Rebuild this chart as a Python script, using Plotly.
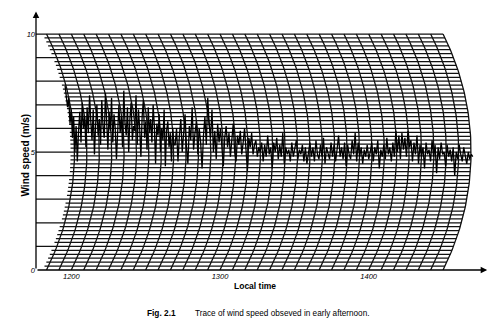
import numpy as np
import plotly.graph_objects as go

# ---------------- data ----------------
# wind speed trace (m/s), three stretches of the record, sampled left to right
speed_early = [7.8, 7.4, 6.9, 7.3, 6.2, 6.8, 5.6, 6.5, 5.0, 6.1, 4.6, 5.9, 6.7, 5.4, 7.1, 6.0,
               6.5, 5.2, 6.9, 5.8, 7.4, 6.3, 5.5, 6.8, 4.9, 6.2, 7.0, 5.7, 6.4, 5.3, 7.2, 6.1,
               5.6, 7.5, 6.0, 5.1, 6.7, 5.9, 7.3, 5.4, 6.6, 6.0, 4.7, 6.3, 7.0, 5.8, 6.5, 5.2,
               7.6, 6.2, 5.7, 6.9, 5.0, 6.4, 7.1, 5.5, 6.1, 5.9, 7.4, 5.3, 6.8, 6.0, 4.8, 6.5,
               7.2, 5.6, 6.3, 5.1, 6.9, 5.8, 6.4, 5.4, 7.0, 6.1, 4.5, 6.2, 5.7, 6.6, 5.0, 6.0,
               5.5, 6.8, 4.4, 5.9, 6.3, 5.2, 5.8, 4.6, 6.0, 5.3]
speed_mid = [5.3, 6.0, 4.6, 5.7, 6.4, 5.0, 5.9, 6.6, 5.2, 4.5, 6.1, 5.5, 6.9, 5.1, 5.8, 6.3,
             4.9, 6.0, 5.4, 4.3, 5.7, 6.5, 5.3, 7.3, 6.2, 5.6, 6.8, 5.0, 5.9, 4.7, 6.2, 5.4,
             6.0, 5.1, 4.4, 5.6, 6.1, 5.2, 5.8, 4.8, 5.5, 6.2, 5.0, 4.6, 5.7, 5.3, 5.9, 4.9,
             5.4, 6.0, 5.1, 4.2, 5.6, 5.2, 5.8, 4.9, 5.3, 5.5, 4.8, 5.2]
speed_late = [5.0, 5.4, 4.6, 5.3, 4.8, 5.7, 4.9, 5.2, 4.3, 5.4, 5.0, 5.6, 4.7, 5.3, 4.8, 5.8,
              4.5, 5.2, 4.9, 5.1, 4.6, 5.4, 4.8, 5.2, 5.5, 4.7, 5.1, 4.9, 5.3, 4.6, 5.2, 4.5,
              5.0, 5.4, 4.8, 5.2, 4.6, 5.5, 4.9, 4.7, 5.3, 4.8, 5.6, 4.5, 5.2, 4.9, 4.7, 5.4,
              4.8, 5.3, 4.6, 5.1, 5.7, 4.8, 5.2, 4.7, 5.4, 4.4, 5.3, 4.9, 4.7, 5.5, 4.9, 5.8,
              4.6, 5.4, 4.8, 5.2, 4.5, 5.1, 4.8, 5.3, 4.7, 5.0, 5.4, 4.6, 5.2, 4.9, 5.5, 4.3,
              5.1, 4.8, 5.3, 4.7, 5.6, 4.9, 5.2, 4.6, 5.4, 4.8, 5.9, 5.0, 5.7, 4.7, 5.8, 5.1,
              5.6, 4.8, 5.9, 5.2, 5.5, 4.6, 5.4, 4.9, 5.7, 4.5, 5.3, 4.8, 5.2, 4.3, 5.4, 4.9,
              5.1, 4.6, 5.5, 4.8, 5.3, 4.1, 5.2, 4.7, 5.4, 4.9, 5.0, 4.4, 5.3, 4.8, 5.1, 4.6,
              5.2, 4.0, 5.0, 4.7, 5.3, 4.9, 4.6, 5.2, 4.8, 4.5, 5.0, 4.7, 4.9, 4.8]
# minutes after 12:00 where each stretch begins / ends
stretch_bounds = [-2.5, 41.9, 76.2, 162.0]

tick_minutes = [0, 60, 120]
tick_labels = ["1200", "1300", "1400"]
speed_ticks = [0, 5, 10]
speed_tick_labels = ["0", "5", "10"]

# chart paper: 5-minute arcs, 1/6 m/s rulings
arc_minutes = list(range(-10, 151, 5))
rulings_per_ms = 6
speed_max = 10

# ---------------- layout geometry ----------------
W, H = 500, 326
ML, MR, MT, MB = 36, 10, 13, 56
PW, PH = W - ML - MR, H - MT - MB
PX_PER_MIN = 148.7 / 60.0
PX_PER_MS = 23.6
X0 = -(71.3 - ML) / PX_PER_MIN
X1 = X0 + PW / PX_PER_MIN
Y1 = PH / PX_PER_MS

# pen-arm curvature of the chart paper (pixels)
SAG = 28.0
HALF = 5 * PX_PER_MS
RAD = (HALF ** 2 + SAG ** 2) / (2 * SAG)


def bulge(v):
    dy = (np.asarray(v, dtype=float) - speed_max / 2) * PX_PER_MS
    b = SAG - (RAD - np.sqrt(np.maximum(RAD ** 2 - dy ** 2, 0)))
    return np.maximum(b, 0) / PX_PER_MIN


# ---------------- traces ----------------
hx, hy = [], []
for k in range(1, rulings_per_ms * speed_max + 1):
    v = k / rulings_per_ms
    right = arc_minutes[-1] + float(bulge(v))
    if k % rulings_per_ms == 0:
        left = X0
    else:
        left = arc_minutes[0] + float(bulge(v)) - 1.6
    hx += [left, right, None]
    hy += [v, v, None]

vs = np.linspace(0, speed_max, 81)
ax_, ay_ = [], []
for t in arc_minutes:
    ax_ += list(t + bulge(vs)) + [None]
    ay_ += list(vs) + [None]

segments = [speed_early, speed_mid, speed_late]
tx, ty = [], []
for i, seg in enumerate(segments):
    a, b = stretch_bounds[i], stretch_bounds[i + 1]
    xs = np.linspace(a, b, len(seg), endpoint=(i == len(segments) - 1))
    tx += list(xs)
    ty += list(seg)

fig = go.Figure()
fig.add_trace(go.Scatter(x=hx, y=hy, mode="lines", line=dict(color="#111", width=1.25),
                         hoverinfo="skip", showlegend=False))
fig.add_trace(go.Scatter(x=ax_, y=ay_, mode="lines", line=dict(color="#111", width=1.3),
                         hoverinfo="skip", showlegend=False))
fig.add_trace(go.Scatter(x=tx, y=ty, mode="lines", line=dict(color="#000", width=1.3),
                         hoverinfo="skip", showlegend=False))

FONT = "Liberation Sans, Arial, sans-serif"


def px_x(p):
    return (p - ML) / PW


def px_y(p):
    return (MT + PH - p) / PH


annotations = [
    # axes with arrows
    dict(x=167.8, y=0, ax=X0, ay=0, xref="x", yref="y", axref="x", ayref="y",
         showarrow=True, arrowhead=2, arrowsize=1, arrowwidth=1.3, arrowcolor="#000", text=""),
    dict(x=X0, y=10.95, ax=X0, ay=0, xref="x", yref="y", axref="x", ayref="y",
         showarrow=True, arrowhead=2, arrowsize=1, arrowwidth=1.3, arrowcolor="#000", text=""),
    dict(x=px_x(17), y=px_y(155), xref="paper", yref="paper", text="<b>Wind speed (m/s)</b>",
         textangle=-90, showarrow=False, font=dict(family=FONT, size=10, color="#000")),
    dict(x=px_x(255), y=px_y(293), xref="paper", yref="paper", text="<b>Local time</b>",
         showarrow=False, font=dict(family=FONT, size=8.5, color="#000")),
    dict(x=px_x(145), y=px_y(320), xref="paper", yref="paper", text="<b>Fig. 2.1</b>",
         xanchor="left", showarrow=False, font=dict(family=FONT, size=8.3, color="#000")),
    dict(x=px_x(193), y=px_y(320), xref="paper", yref="paper",
         text="Trace of wind speed obseved in early afternoon.",
         xanchor="left", showarrow=False, font=dict(family=FONT, size=8.2, color="#000")),
]

fig.update_layout(
    width=W, height=H,
    margin=dict(l=ML, r=MR, t=MT, b=MB, pad=0),
    paper_bgcolor="white", plot_bgcolor="white",
    xaxis=dict(range=[X0, X1], showgrid=False, zeroline=False, showline=False,
               tickvals=tick_minutes, ticktext=tick_labels, ticks="",
               tickfont=dict(family=FONT, size=7.5, color="#000", style="italic"),
               fixedrange=True),
    yaxis=dict(range=[0, Y1], showgrid=False, zeroline=False, showline=False,
               tickvals=speed_ticks, ticktext=speed_tick_labels, ticks="",
               tickfont=dict(family=FONT, size=7.5, color="#000", style="italic"),
               fixedrange=True),
    annotations=annotations,
    showlegend=False,
)

fig.write_html("out.html")
